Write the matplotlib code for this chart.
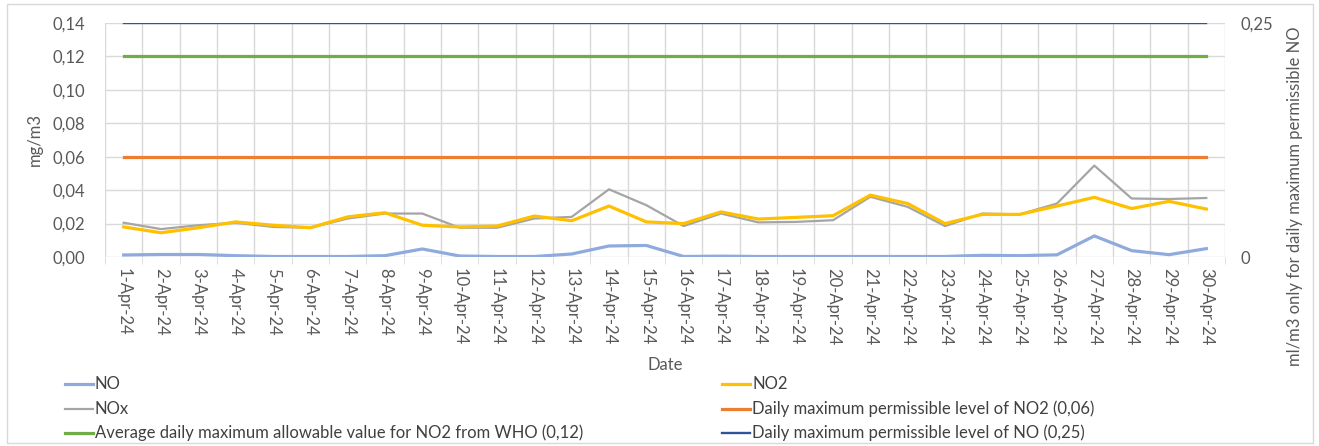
import matplotlib
matplotlib.use('Agg')
import matplotlib.pyplot as plt
from matplotlib.ticker import FuncFormatter, FixedLocator
from matplotlib.lines import Line2D
from matplotlib.patches import Rectangle

plt.rcParams['font.family'] = ['Lato', 'DejaVu Sans']

# data (April 2024)
dates = ['%d-Apr-24' % d for d in range(1, 31)]
no = [0.0012, 0.0015, 0.0015, 0.0008, 0.0003, 0.0003, 0.0003, 0.0008, 0.0048, 0.0006,
      0.0003, 0.0003, 0.0018, 0.0066, 0.0069, 0.0003, 0.0005, 0.0003, 0.0003, 0.0003,
      0.0003, 0.0003, 0.0003, 0.0010, 0.0008, 0.0013, 0.0126, 0.0038, 0.0014, 0.0050]
no2 = [0.0180, 0.0145, 0.0175, 0.0210, 0.0190, 0.0175, 0.0240, 0.0265, 0.0190, 0.0180,
       0.0185, 0.0245, 0.0217, 0.0305, 0.0210, 0.0200, 0.0270, 0.0227, 0.0237, 0.0247,
       0.0370, 0.0320, 0.0200, 0.0255, 0.0255, 0.0305, 0.0357, 0.0290, 0.0333, 0.0287]
nox = [0.0205, 0.0167, 0.0190, 0.0205, 0.0180, 0.0175, 0.0230, 0.0260, 0.0260, 0.0175,
       0.0175, 0.0230, 0.0240, 0.0405, 0.0310, 0.0185, 0.0260, 0.0207, 0.0210, 0.0220,
       0.0360, 0.0300, 0.0185, 0.0260, 0.0255, 0.0320, 0.0547, 0.0350, 0.0347, 0.0353]
no2_limit = 0.06
who_limit = 0.12
no_limit = 0.25

c_no = '#8FAADC'
c_no2 = '#FFC000'
c_nox = '#A5A5A5'
c_no2lim = '#ED7D31'
c_who = '#70AD47'
c_nolim = '#2F5597'
txt = '#595959'
W, H = 1319, 446

fig = plt.figure(figsize=(W/100, H/100), dpi=100)
fig.patches.append(Rectangle((7/W, 3/H), 1306/W, 439/H, transform=fig.transFigure,
                             fill=False, edgecolor='#D9D9D9', linewidth=1))
ax = fig.add_axes([105/W, 1 - 257/H, 1120/W, 234/H])
ax2 = ax.twinx()

x = list(range(len(dates)))
ax.plot(x, [no2_limit]*len(x), color=c_no2lim, lw=2.3, zorder=3)
ax.plot(x, [who_limit]*len(x), color=c_who, lw=2.3, zorder=3)
ax.plot(x, nox, color=c_nox, lw=1.6, zorder=4)
ax.plot(x, no2, color=c_no2, lw=2.3, zorder=5)
ax.plot(x, no, color=c_no, lw=2.3, zorder=5)
ax2.plot(x, [no_limit]*len(x), color=c_nolim, lw=1.7)

ax.set_xlim(-0.5, len(x) - 0.5)
ax.set_ylim(0, 0.14)
ax.set_yticks([i*0.02 for i in range(8)])
ax.yaxis.set_major_formatter(FuncFormatter(lambda v, p: ('%.2f' % v).replace('.', ',')))
ax2.set_ylim(0, 0.25)
ax2.set_yticks([0, 0.25])
ax2.set_yticklabels(['0', '0,25'])

ax.set_xticks(x)
ax.set_xticklabels(dates, rotation=270, fontsize=12, color=txt)
ax.xaxis.set_minor_locator(FixedLocator([i - 0.5 for i in range(len(x) + 1)]))
ax.tick_params(axis='x', which='major', length=0, pad=8)
ax.tick_params(axis='x', which='minor', length=5, color='#D9D9D9')
ax.tick_params(axis='y', length=0, labelsize=12, labelcolor=txt, pad=14)
ax2.tick_params(axis='y', length=0, labelsize=12, labelcolor=txt, pad=11)

ax.grid(True, which='minor', axis='x', color='#D9D9D9', lw=1)
ax.grid(True, which='major', axis='y', color='#D9D9D9', lw=1)
ax.set_axisbelow(True)
for a in (ax, ax2):
    for s in a.spines.values():
        s.set_visible(False)

# axis titles
fig.text(665/W, 1 - 365/H, 'Date', ha='center', va='center', fontsize=12, color=txt)
fig.text(35/W, 1 - 140/H, 'mg/m3', ha='center', va='center', rotation=90,
         fontsize=12, color=txt)
fig.text(1295/W, 1 - 27/H, 'ml/m3 only for daily maximum permissible NO', ha='center',
         va='top', rotation=90, fontsize=12, color=txt)

# legend, two columns
leg_names = [['NO', 'NOx', 'Average daily maximum allowable value for NO2 from WHO (0,12)'],
             ['NO2', 'Daily maximum permissible level of NO2 (0,06)',
              'Daily maximum permissible level of NO (0,25)']]
leg_colors = [[c_no, c_nox, c_who], [c_no2, c_no2lim, c_nolim]]
leg_lw = [[2.3, 1.6, 2.3], [2.3, 2.3, 1.7]]
col_x = [65, 722]
row_y = [384, 409, 433]
for ci in range(2):
    for ri in range(3):
        y = 1 - row_y[ri]/H
        fig.add_artist(Line2D([col_x[ci]/W, (col_x[ci] + 28)/W], [y, y],
                              color=leg_colors[ci][ri], lw=leg_lw[ci][ri],
                              transform=fig.transFigure))
        fig.text((col_x[ci] + 30)/W, y, leg_names[ci][ri], ha='left', va='center',
                 fontsize=12, color='#404040')

fig.savefig('out.png', dpi=100)
